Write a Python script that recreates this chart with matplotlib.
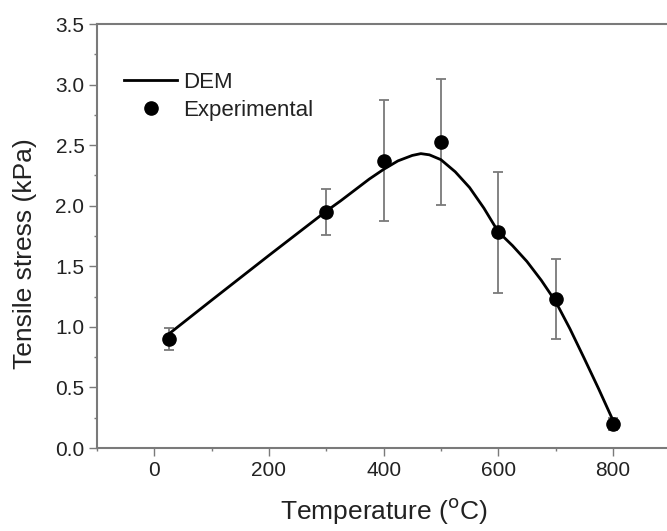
import numpy as np
import matplotlib.pyplot as plt

plt.rcParams['font.family'] = ['Liberation Sans', 'DejaVu Sans']

# 实验数据（温度、拉伸应力及误差）
temp_exp = [25, 300, 400, 500, 600, 700, 800]
stress_exp = [0.90, 1.95, 2.37, 2.53, 1.78, 1.23, 0.20]
stress_err = [0.09, 0.19, 0.50, 0.52, 0.50, 0.33, 0.05]

# DEM 模拟曲线
temp_dem = [25, 100, 200, 300, 325, 350, 375, 400, 425, 450, 465, 480, 500,
            525, 550, 575, 600, 625, 650, 675, 700, 725, 750, 775, 800]
stress_dem = [0.94, 1.22, 1.59, 1.955, 2.04, 2.13, 2.22, 2.30, 2.37, 2.415,
              2.43, 2.42, 2.38, 2.28, 2.15, 1.98, 1.785, 1.67, 1.54, 1.385,
              1.21, 0.985, 0.74, 0.49, 0.23]

grey = '#7a7a7a'
text_c = '#222222'

fig = plt.figure(figsize=(6.67, 5.31), dpi=100)
ax = fig.add_axes([0.1454, 0.1563, 0.8594, 0.7985])

ax.errorbar(temp_exp, stress_exp, yerr=stress_err, fmt='none', ecolor=grey,
            elinewidth=1.3, capsize=3.6, capthick=1.3, zorder=1)
ax.plot(temp_dem, stress_dem, color='black', lw=2, label='DEM', zorder=2,
        solid_joinstyle='round')
ax.plot(temp_exp, stress_exp, 'o', color='black', ms=9.5,
        label='Experimental', zorder=3)

ax.set_xlim(-100, 900)
ax.set_ylim(0, 3.5)
ax.set_xticks([0, 200, 400, 600, 800])
ax.set_xticks(np.arange(-100, 901, 100), minor=True)
ax.set_yticks(np.arange(0, 3.51, 0.5))
ax.set_yticks(np.arange(0, 3.51, 0.25), minor=True)
ax.yaxis.set_major_formatter(plt.FormatStrFormatter('%.1f'))

for side in ['left', 'bottom', 'top']:
    ax.spines[side].set_color(grey)
    ax.spines[side].set_linewidth(1.5)
ax.spines['right'].set_visible(False)

ax.tick_params(which='major', direction='out', length=6, width=1,
               color=grey, labelsize=15, labelcolor=text_c, pad=3)
ax.tick_params(which='minor', direction='out', length=2.5, width=1, color=grey)
ax.tick_params(top=False, right=False, which='both')

ax.set_xlabel('Temperature ($^{\\mathrm{o}}$C)', fontsize=19, color=text_c,
              labelpad=12)
ax.set_ylabel('Tensile stress (kPa)', fontsize=19, color=text_c)
ax.yaxis.set_label_coords(-0.105, 0.4575)

ax.legend(loc='upper left', bbox_to_anchor=(0.047, 0.887), frameon=False,
          fontsize=16, handlelength=2.4, handletextpad=0.27, borderpad=0,
          borderaxespad=0, labelspacing=0.3, labelcolor=text_c)

fig.savefig('out.png', dpi=100)
